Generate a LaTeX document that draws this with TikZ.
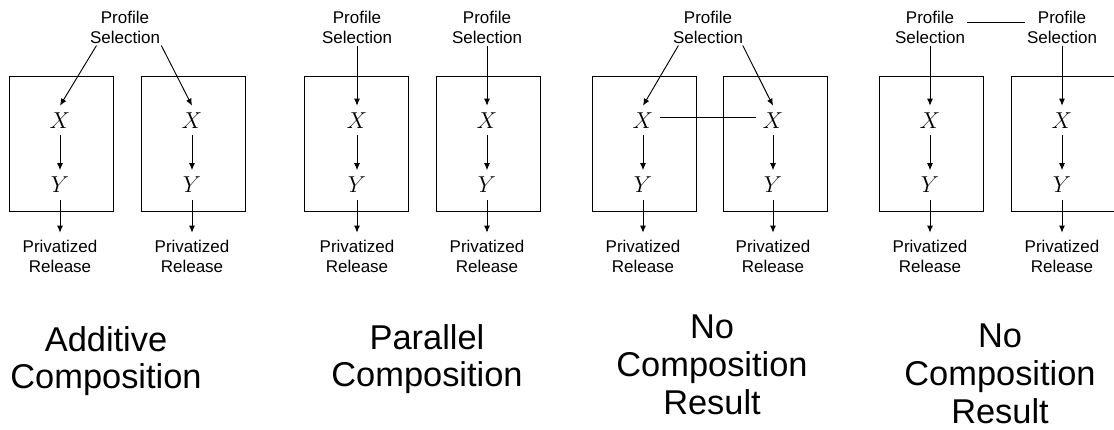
\documentclass[tikz,border=0pt]{standalone}
\usepackage{fontspec}
\setmainfont{Liberation Sans}
\usetikzlibrary{arrows.meta}
\begin{document}
\begin{tikzpicture}[x=0.75pt,y=-0.75pt,
        mbox/.style={draw,line width=0.7pt,minimum width=78pt,minimum height=101.25pt,inner sep=0pt},
        var/.style={inner sep=5pt,font=\fontsize{18}{20}\selectfont},
        sel/.style={align=center,inner sep=1.5pt,font=\fontsize{12.75}{15}\selectfont},
        rel/.style={align=center,inner sep=5.5pt,font=\fontsize{12.75}{15}\selectfont},
        capt/.style={align=center,anchor=north,inner sep=0pt,font=\fontsize{25.8}{28.2}\selectfont},
        arr/.style={-{Latex[length=5.25pt,width=4.5pt]},line width=0.7pt}]
            \useasboundingbox (0,0) rectangle (1114,429);

            \node[mbox] (B1) at (61,143.5) {};
            \node[mbox] (B2) at (193,143.5) {};
            \node[mbox] (B3) at (356.5,143.5) {};
            \node[mbox] (B4) at (488,143.5) {};
            \node[mbox] (B5) at (644,143.5) {};
            \node[mbox] (B6) at (775,143.5) {};
            \node[mbox] (B7) at (931,143.5) {};
            \node[mbox,minimum width=80.25pt] (B8) at (1064.5,143.5) {};

            \node[var] (X1) at (60,120.5) {$X$};
            \node[var] (X2) at (192,120.5) {$X$};
            \node[var] (X3) at (357,120.5) {$X$};
            \node[var] (X4) at (487,120.5) {$X$};
            \node[var] (X5) at (643,120.5) {$X$};
            \node[var] (X6) at (773,120.5) {$X$};
            \node[var] (X7) at (930,120.5) {$X$};
            \node[var] (X8) at (1062,120.5) {$X$};

            \node[var] (Y1) at (60,185) {$Y$};
            \node[var] (Y2) at (192,185) {$Y$};
            \node[var] (Y3) at (357,185) {$Y$};
            \node[var] (Y4) at (487,185) {$Y$};
            \node[var] (Y5) at (643,185) {$Y$};
            \node[var] (Y6) at (773,185) {$Y$};
            \node[var] (Y7) at (930,185) {$Y$};
            \node[var] (Y8) at (1062,185) {$Y$};

            \node[rel] (R1) at (60,256.5) {Privatized\\Release};
            \node[rel] (R2) at (192,256.5) {Privatized\\Release};
            \node[rel] (R3) at (357,256.5) {Privatized\\Release};
            \node[rel] (R4) at (487,256.5) {Privatized\\Release};
            \node[rel] (R5) at (643,256.5) {Privatized\\Release};
            \node[rel] (R6) at (773,256.5) {Privatized\\Release};
            \node[rel] (R7) at (930,256.5) {Privatized\\Release};
            \node[rel] (R8) at (1062,256.5) {Privatized\\Release};

            \node[sel] (P1) at (125,27) {Profile\\Selection};
            \node[sel] (P2) at (357,27) {Profile\\Selection};
            \node[sel] (P3) at (487,27) {Profile\\Selection};
            \node[sel] (P4) at (708,27) {Profile\\Selection};
            \node[sel] (P5) at (930,27) {Profile\\Selection};
            \node[sel] (P6) at (1062,27) {Profile\\Selection};

            \draw[arr] (P1.213)--(X1.north);
            \draw[arr] (P1.333)--(X2.north);
            \draw[arr] (P2)--(X3);
            \draw[arr] (P3)--(X4);
            \draw[arr] (P4.212)--(X5.north);
            \draw[arr] (P4.332)--(X6.north);
            \draw[arr] (P5)--(X7);
            \draw[arr] (P6)--(X8);

            \draw[arr] (X1)--(Y1);
            \draw[arr] (X2)--(Y2);
            \draw[arr] (X3)--(Y3);
            \draw[arr] (X4)--(Y4);
            \draw[arr] (X5)--(Y5);
            \draw[arr] (X6)--(Y6);
            \draw[arr] (X7)--(Y7);
            \draw[arr] (X8)--(Y8);

            \draw[arr] (Y1)--(R1);
            \draw[arr] (Y2)--(R2);
            \draw[arr] (Y3)--(R3);
            \draw[arr] (Y4)--(R4);
            \draw[arr] (Y5)--(R5);
            \draw[arr] (Y6)--(R6);
            \draw[arr] (Y7)--(R7);
            \draw[arr] (Y8)--(R8);

            \draw[line width=0.7pt] (X5.10)--(X6.170);
            \draw[line width=0.7pt] (P5.7)--(P6.173);

            \node[capt] (C1) at (106,326) {Additive\\Composition};
            \node[capt] (C2) at (427,324) {Parallel\\Composition};
            \node[capt] (C3) at (712,315) {No\\Composition\\Result};
            \node[capt] (C4) at (1000,324) {No\\Composition\\Result};
        \end{tikzpicture}
\end{document}
